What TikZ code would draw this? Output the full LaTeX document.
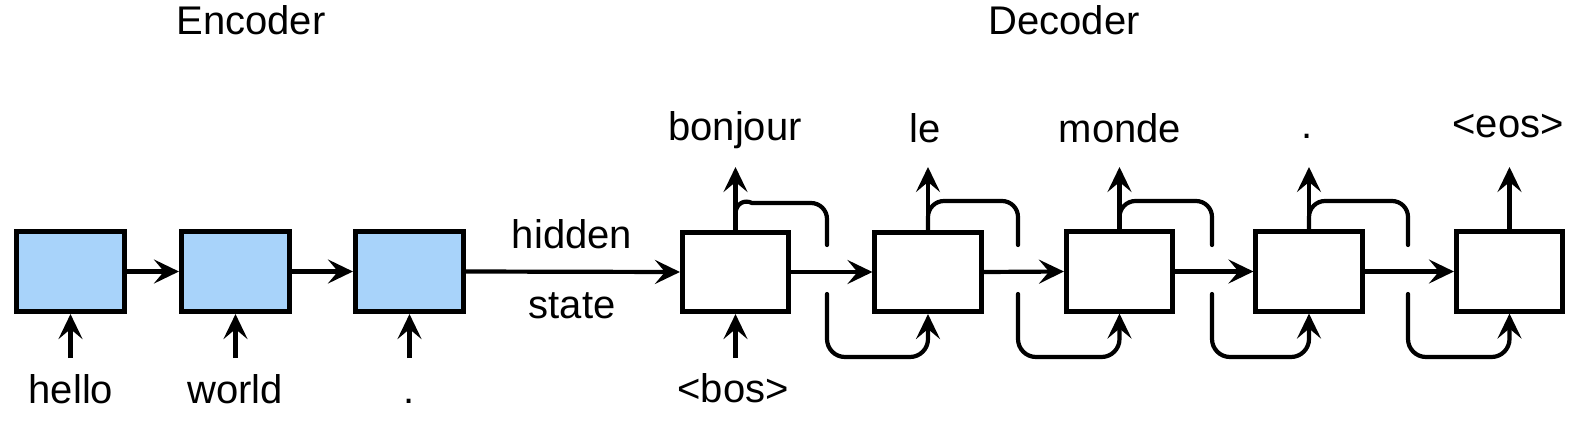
\documentclass[tikz,border=0pt]{standalone}
\usepackage{fontspec}
\setmainfont{Liberation Sans}
\usetikzlibrary{arrows.meta}
\definecolor{encblue}{RGB}{168,211,250}
\tikzset{
  encbox/.style={draw=black, line width=4.6pt, fill=encblue, minimum width=108.5pt, minimum height=80.5pt, inner sep=0pt},
  decbox/.style={draw=black, line width=4.6pt, fill=white, minimum width=106.5pt, minimum height=79.5pt, inner sep=0pt},
  lab/.style={font=\fontsize{40}{48}\selectfont, anchor=base, inner sep=0pt},
  ln/.style={line width=4.2pt, line cap=round},
  arr/.style={line width=4.2pt, -{Stealth[length=25pt,width=24pt,inset=10pt]}},
}
\begin{document}
\begin{tikzpicture}[x=1pt,y=-1pt]
\useasboundingbox (0,0) rectangle (1590,437);
% titles
\node[lab] (tenc) at (251,34) {Encoder};
\node[lab] (tdec) at (1064,34) {Decoder};
% encoder boxes
\node[encbox] (e1) at (70.5,271.5) {};
\node[encbox] (e2) at (235.5,271.5) {};
\node[encbox] (e3) at (409.5,271.5) {};
% decoder boxes
\node[decbox] (d1) at (735.5,272) {};
\node[decbox] (d2) at (928,272) {};
\node[decbox] (d3) at (1119.5,271.5) {};
\node[decbox] (d4) at (1309,271.5) {};
\node[decbox] (d5) at (1509.5,271.5) {};
% encoder inputs
\node[lab] (w1) at (71,403) {hello};
\node[lab] (w2) at (235,403) {world};
\node[lab] (w3) at (409,403) {.};
\coordinate (i1) at (70.5,358);
\coordinate (i2) at (235.5,358);
\coordinate (i3) at (409.5,358);
\draw[arr] (i1) -- (e1.south);
\draw[arr] (i2) -- (e2.south);
\draw[arr] (i3) -- (e3.south);
% encoder chain
\draw[arr] (e1.east) -- (e2.west);
\draw[arr] (e2.east) -- (e3.west);
\draw[arr] (e3.east) -- (d1.west);
\node[lab] (hid) at (572,248) {hidden};
\node[lab] (sta) at (572,318) {state};
% decoder input
\node[lab] (bos) at (733,402) {<bos>};
\coordinate (ib) at (735.5,358);
\draw[arr] (ib) -- (d1.south);
% decoder outputs
\node[lab] (o1) at (735,140) {bonjour};
\node[lab] (o2) at (925,142) {le};
\node[lab] (o3) at (1120,142) {monde};
\node[lab] (o4) at (1307,138) {.};
\node[lab] (o5) at (1508,137) {<eos>};
\coordinate (t1) at (735.5,167);
\coordinate (t2) at (928,167);
\coordinate (t3) at (1119.5,167);
\coordinate (t4) at (1309,167);
\coordinate (t5) at (1509.5,167);
\draw[arr] (d1.north) -- (t1);
\draw[arr] (d2.north) -- (t2);
\draw[arr] (d3.north) -- (t3);
\draw[arr] (d4.north) -- (t4);
\draw[arr] (d5.north) -- (t5);
% decoder chain
\draw[arr] (d1.east) -- (d2.west);
\draw[arr] (d2.east) -- (d3.west);
\draw[arr] (d3.east) -- (d4.west);
\draw[arr] (d4.east) -- (d5.west);
% feedback loops: gap coordinates
\coordinate (g1a) at (827,245);  \coordinate (g1b) at (827,294);
\coordinate (g2a) at (1018,245); \coordinate (g2b) at (1018,294);
\coordinate (g3a) at (1212,245); \coordinate (g3b) at (1212,294);
\coordinate (g4a) at (1408,245); \coordinate (g4b) at (1408,294);
\coordinate (h1) at (735.5,213);
% upper halves
\draw[ln] (h1) .. controls (736,204) and (744,199) .. (752,203)
  [rounded corners=16pt] -- (g1a |- 0,203) -- (g1a);
\draw[ln, rounded corners=16pt] (d2.north) -- (d2.north |- 0,201) -- (g2a |- 0,201) -- (g2a);
\draw[ln, rounded corners=16pt] (d3.north) -- (d3.north |- 0,201) -- (g3a |- 0,201) -- (g3a);
\draw[ln, rounded corners=16pt] (d4.north) -- (d4.north |- 0,201) -- (g4a |- 0,201) -- (g4a);
% lower halves
\draw[arr, line cap=round, rounded corners=18pt] (g1b) -- (g1b |- 0,357) -- (d2.south |- 0,357) -- (d2.south);
\draw[arr, line cap=round, rounded corners=18pt] (g2b) -- (g2b |- 0,357) -- (d3.south |- 0,357) -- (d3.south);
\draw[arr, line cap=round, rounded corners=18pt] (g3b) -- (g3b |- 0,357) -- (d4.south |- 0,357) -- (d4.south);
\draw[arr, line cap=round, rounded corners=18pt] (g4b) -- (g4b |- 0,357) -- (d5.south |- 0,357) -- (d5.south);
\end{tikzpicture}
\end{document}
